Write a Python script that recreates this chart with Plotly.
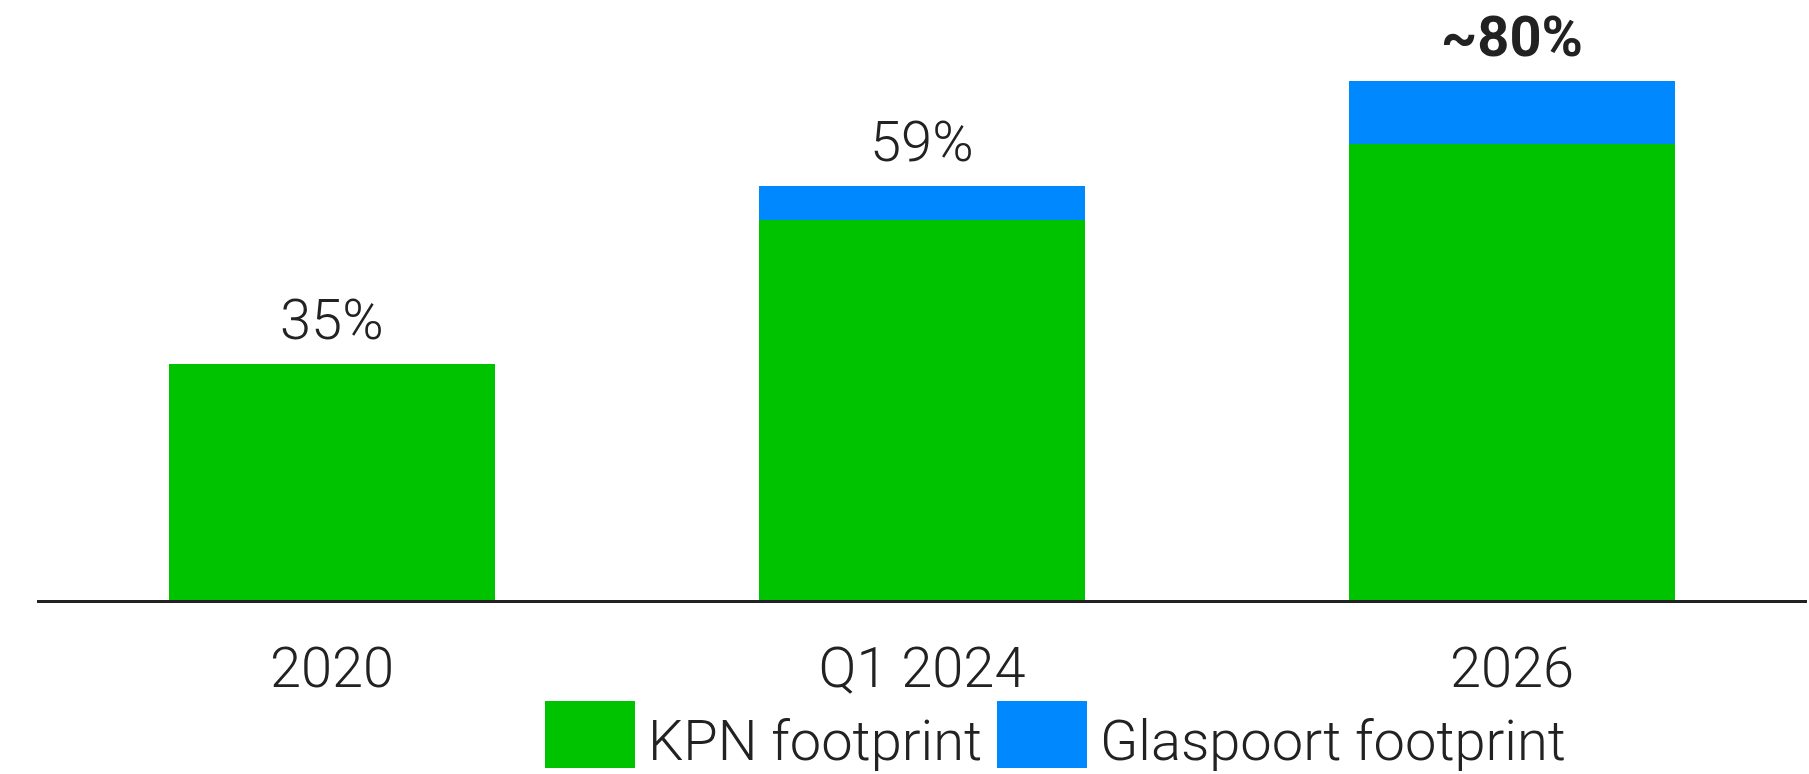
import plotly.graph_objects as go

categories = ["2020", "Q1 2024", "2026"]
kpn_footprint = [35, 56.3, 67.7]
glaspoort_footprint = [0, 5.1, 9.3]
total_labels = ["35%", "59%", "~80%"]
total_bold = [False, False, True]
series_names = ["KPN footprint", "Glaspoort footprint"]

GREEN = "#00C300"
BLUE = "#0088FF"
TEXT = "#222222"
FONT = "Roboto"

fig = go.Figure()
fig.add_trace(go.Bar(x=categories, y=kpn_footprint, name=series_names[0],
                     marker=dict(color=GREEN, line=dict(width=0)), width=0.554))
fig.add_trace(go.Bar(x=categories, y=glaspoort_footprint, name=series_names[1],
                     marker=dict(color=BLUE, line=dict(width=0)), width=0.554))

for i, (a, b, lab, bold) in enumerate(zip(kpn_footprint, glaspoort_footprint, total_labels, total_bold)):
    fig.add_annotation(x=i, y=a + b, text=lab, showarrow=False, yanchor="middle", yshift=44,
                       font=dict(family=FONT, size=56, color=TEXT, weight=700 if bold else 300))

# custom legend
legend_items = [(series_names[0], GREEN, 545, 635, 646), (series_names[1], BLUE, 997, 1087, 1098)]
L, W, T, H = 37, 1770, 0, 600
for name, col, x0, x1, tx in legend_items:
    fig.add_shape(type="rect", xref="paper", yref="paper",
                  x0=(x0 - L) / W, x1=(x1 - L) / W, y0=(H - 701) / H, y1=(H - 768) / H,
                  fillcolor=col, line=dict(width=0))
    fig.add_annotation(xref="paper", yref="paper", x=(tx - L) / W, y=(H - 741) / H,
                       xanchor="left", yanchor="middle", text=name, showarrow=False,
                       font=dict(family=FONT, size=56, color=TEXT, weight=300))

fig.update_layout(
    barmode="stack", width=1809, height=774, showlegend=False,
    margin=dict(l=37, r=2, t=0, b=174),
    paper_bgcolor="white", plot_bgcolor="white", bargap=0.446,
    xaxis=dict(type="category", showline=True, linecolor=TEXT, linewidth=2.5, showgrid=False, ticks="",
               tickfont=dict(family=FONT, size=56, color=TEXT, weight=300),
               ticklabelstandoff=17, range=[-0.5, 2.5]),
    yaxis=dict(visible=False, range=[0, 600 / 6.743]),
)
fig.write_html("out.html")
